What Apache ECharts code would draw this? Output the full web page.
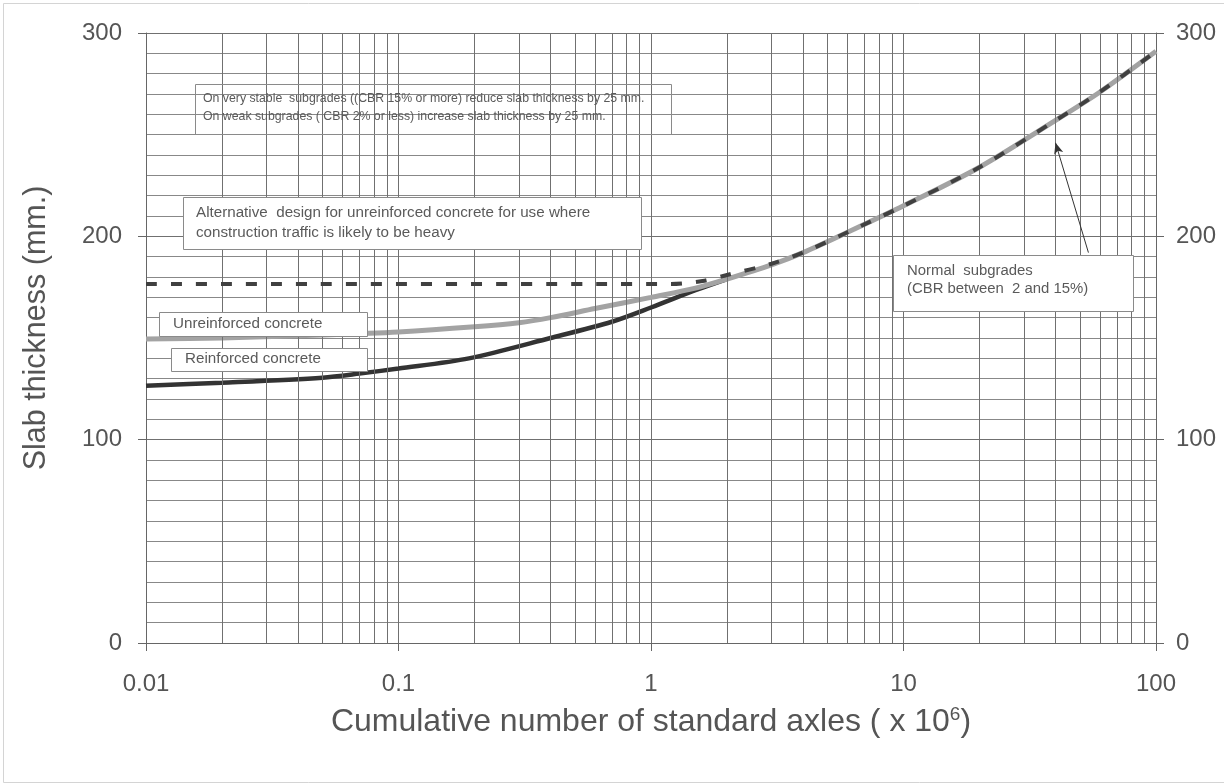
<!DOCTYPE html>
<html>
<head>
<meta charset="utf-8">
<script src="https://cdn.jsdelivr.net/npm/echarts@6/dist/echarts.min.js"></script>
<style>
  html, body { margin: 0; padding: 0; background: #fff; }
  #slabChart { width: 1224px; height: 783px; }
</style>
</head>
<body>
<div id="slabChart"></div>
<script>
// traffic (millions of standard axles) and slab thickness (mm)
var unreinforcedX = [0.01, 0.02, 0.05, 0.1, 0.2, 0.3, 0.4, 0.6, 1, 1.5, 2, 3, 4, 6, 10, 20, 40, 60, 100];
var unreinforcedY = [149.5, 150, 151.5, 153, 155.5, 157.5, 160, 164.5, 170, 174.5, 179, 186, 192, 202, 215, 234, 257, 271, 291];

var reinforcedX = [0.01, 0.02, 0.05, 0.07, 0.1, 0.19, 0.4, 0.7, 1, 1.5, 2];
var reinforcedY = [126.5, 128, 130.5, 132.5, 135, 140, 150, 158, 165, 173.5, 179];

var heavyX = [0.01, 1.2, 1.6, 2, 3, 4, 6, 10, 20, 40, 60, 100];
var heavyY = [176.5, 176.5, 178, 181, 186.5, 192, 202, 215, 234, 257, 271, 291];

var decades = [0.01, 0.1, 1, 10];

// arrow for the "Normal subgrades" note: tail, head
var arrowFrom = [54, 192];
var arrowTo = [40, 246];

function pairs(xs, ys) {
    var out = [];
    for (var i = 0; i < xs.length; i++) out.push([xs[i], ys[i]]);
    return out;
}

// vertical lines at 2..9 of every decade
var minorLines = [];
decades.forEach(function (d) {
    for (var k = 2; k <= 9; k++) minorLines.push({ xAxis: +(d * k).toPrecision(3) });
});

var font = '"Liberation Sans", Arial, sans-serif';
var txt = '#555';

var myChart = echarts.init(document.getElementById('slabChart'));
var option = {
    backgroundColor: '#fff',
    animation: false,
    textStyle: { fontFamily: font },
    grid: { left: 146, right: 68, top: 33, bottom: 140 },
    xAxis: {
        type: 'log',
        logBase: 10,
        min: 0.01,
        max: 100,
        name: 'Cumulative number of standard axles ( x 10{sup|6})',
        nameLocation: 'middle',
        nameGap: 62,
        nameTextStyle: {
            fontSize: 32, color: txt, fontFamily: font,
            rich: { sup: { fontSize: 19, color: txt, fontFamily: font, verticalAlign: 'top', padding: [0, 0, 16, 0] } }
        },
        axisLine: { show: true, lineStyle: { color: '#666', width: 1 } },
        axisTick: { show: true, length: 8, lineStyle: { color: '#666' } },
        axisLabel: {
            fontSize: 24, color: txt, margin: 29,
            formatter: function (v) { return String(+v.toPrecision(3)); }
        },
        splitLine: { show: true, lineStyle: { color: '#707070', width: 1 } }
    },
    yAxis: [
        {
            type: 'value',
            min: 0,
            max: 300,
            interval: 100,
            name: 'Slab thickness (mm.)',
            nameLocation: 'middle',
            nameGap: 94,
            nameTextStyle: { fontSize: 30.5, color: txt, fontFamily: font, padding: [0, 0, 0, 20] },
            axisLine: { show: true, lineStyle: { color: '#666', width: 1 } },
            axisTick: { show: true, length: 8, lineStyle: { color: '#666' } },
            axisLabel: { fontSize: 24, color: txt, margin: 24 },
            splitLine: { show: true, lineStyle: { color: '#707070', width: 1 } },
            minorTick: { show: false, splitNumber: 10 },
            minorSplitLine: { show: true, lineStyle: { color: '#888', width: 1 } }
        },
        {
            type: 'value',
            position: 'right',
            min: 0,
            max: 300,
            interval: 100,
            axisLine: { show: true, lineStyle: { color: '#666', width: 1 } },
            axisTick: { show: true, length: 8, lineStyle: { color: '#666' } },
            axisLabel: { fontSize: 24, color: txt, margin: 20 },
            splitLine: { show: false }
        }
    ],
    graphic: [
        {
            type: 'rect', left: 1, top: 1, z: 0, silent: true,
            shape: { width: 1221, height: 779 },
            style: { fill: 'none', stroke: '#d4d4d4', lineWidth: 1 }
        },
        {
            type: 'rect', left: 193, top: 82, z: 100,
            shape: { width: 476, height: 50 },
            style: { fill: 'none', stroke: '#8a8a8a', lineWidth: 1 }
        },
        {
            type: 'text', left: 203, top: 90, z: 101,
            style: {
                text: 'On very stable  subgrades ((CBR 15% or more) reduce slab thickness by 25 mm.\nOn weak subgrades ( CBR 2% or less) increase slab thickness by 25 mm.',
                fill: '#5a5a5a', font: '12.3px ' + font, lineHeight: 18
            }
        },
        {
            type: 'rect', left: 183, top: 197, z: 100,
            shape: { width: 458, height: 52 },
            style: { fill: '#fff', stroke: '#8a8a8a', lineWidth: 1 }
        },
        {
            type: 'text', left: 196, top: 203, z: 101,
            style: {
                text: 'Alternative  design for unreinforced concrete for use where\nconstruction traffic is likely to be heavy',
                fill: '#5a5a5a', font: '15.2px ' + font, lineHeight: 20
            }
        },
        {
            type: 'rect', left: 159, top: 312, z: 100,
            shape: { width: 208, height: 24 },
            style: { fill: '#fff', stroke: '#8a8a8a', lineWidth: 1 }
        },
        {
            type: 'text', left: 173, top: 316, z: 101,
            style: { text: 'Unreinforced concrete', fill: '#5a5a5a', font: '15.2px ' + font }
        },
        {
            type: 'rect', left: 171, top: 348, z: 100,
            shape: { width: 196, height: 23 },
            style: { fill: '#fff', stroke: '#8a8a8a', lineWidth: 1 }
        },
        {
            type: 'text', left: 185, top: 351, z: 101,
            style: { text: 'Reinforced concrete', fill: '#5a5a5a', font: '15.2px ' + font }
        },
        {
            type: 'rect', left: 893, top: 255, z: 100,
            shape: { width: 240, height: 56 },
            style: { fill: '#fff', stroke: '#8a8a8a', lineWidth: 1 }
        },
        {
            type: 'text', left: 907, top: 262, z: 101,
            style: {
                text: 'Normal  subgrades\n(CBR between  2 and 15%)',
                fill: '#5a5a5a', font: '14.9px ' + font, lineHeight: 18
            }
        }
    ],
    series: [
        {
            name: 'grid',
            type: 'line',
            data: [],
            z: 1,
            silent: true,
            markLine: {
                silent: true,
                symbol: ['none', 'none'],
                label: { show: false },
                lineStyle: { color: '#707070', width: 1, type: 'solid' },
                data: minorLines
            }
        },
        {
            name: 'Reinforced concrete',
            type: 'line',
            data: pairs(reinforcedX, reinforcedY),
            smooth: 0.3,
            showSymbol: false,
            lineStyle: { color: '#333', width: 4.5 },
            z: 3
        },
        {
            name: 'Unreinforced concrete',
            type: 'line',
            data: pairs(unreinforcedX, unreinforcedY),
            smooth: 0.3,
            showSymbol: false,
            lineStyle: { color: '#a3a3a3', width: 5 },
            z: 4
        },
        {
            name: 'Heavy construction traffic',
            type: 'line',
            data: pairs(heavyX, heavyY),
            smooth: 0.3,
            showSymbol: false,
            lineStyle: { color: '#404040', width: 4, type: [11, 14] },
            z: 5,
            markLine: {
                silent: true,
                symbol: ['none', 'arrow'],
                symbolSize: [7, 11],
                label: { show: false },
                lineStyle: { color: '#333', width: 1, type: 'solid' },
                data: [[{ coord: arrowFrom }, { coord: arrowTo }]]
            }
        }
    ]
};
myChart.setOption(option);
</script>
</body>
</html>
